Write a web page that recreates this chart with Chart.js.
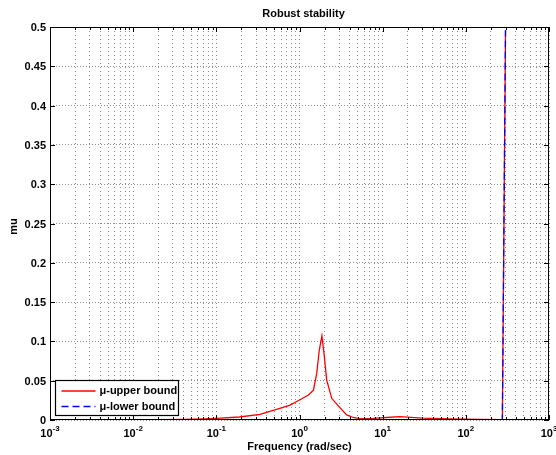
<!DOCTYPE html>
<html>
<head>
<meta charset="utf-8">
<script src="https://cdn.jsdelivr.net/npm/chart.js@4/dist/chart.umd.min.js"></script>
<style>
  html, body { margin: 0; padding: 0; background: #fff; }
  canvas { display: block; }
</style>
</head>
<body>
<canvas id="mu" width="556" height="455"></canvas>
<script>
// frequency grid (rad/sec) and the two mu bounds on it
const freq = [0.001, 0.002, 0.005, 0.01, 0.02, 0.04, 0.07, 0.1, 0.19, 0.335, 0.58, 0.77, 1.0, 1.28, 1.47, 1.61, 1.73, 1.86, 1.99, 2.12, 2.44, 2.93, 3.69, 4.43, 5.3, 7.7, 11, 16, 30, 65, 148, 275, 300];
const upperBound = [0.0002, 0.0002, 0.0003, 0.0003, 0.0004, 0.0008, 0.0014, 0.0021, 0.0038, 0.0072, 0.0149, 0.019, 0.0254, 0.0318, 0.038, 0.059, 0.089, 0.107, 0.0806, 0.051, 0.0276, 0.018, 0.0064, 0.0032, 0.0018, 0.002, 0.0032, 0.0042, 0.0025, 0.0013, 0.0008, 0.0005, 0.496];
const lowerBound = [0, 0, 0, 0, 0, 0, 0, 0, 0, 0, 0, 0, 0, 0, 0, 0, 0, 0, 0, 0, 0, 0, 0, 0, 0, 0, 0, 0, 0, 0, 0, 0, 0.496];

const seriesLabels = ['\u03bc-upper bound', '\u03bc-lower bound'];
const decadeExponents = [-3, -2, -1, 0, 1, 2, 3];
const yTickValues = [0, 0.05, 0.1, 0.15, 0.2, 0.25, 0.3, 0.35, 0.4, 0.45, 0.5];
const yTickLabels = ['0', '0.05', '0.1', '0.15', '0.2', '0.25', '0.3', '0.35', '0.4', '0.45', '0.5'];

// 1..9 x 10^k for the log grid
const xGridValues = [];
decadeExponents.forEach(e => {
  for (let m = 1; m <= 9; m++) {
    if (e === 3 && m > 1) break;
    xGridValues.push(+(m * Math.pow(10, e)).toPrecision(3));
  }
});

const FONT = 'bold 11px "Liberation Sans", Arial, sans-serif';
const SUP_FONT = 'bold 8px "Liberation Sans", Arial, sans-serif';

const isDecade = v => Math.abs(Math.log10(v) - Math.round(Math.log10(v))) < 1e-9;

const matlabFrame = {
  id: 'matlabFrame',
  afterDraw(chart) {
    const { ctx, chartArea: a, scales: { x, y } } = chart;
    const seg = (x1, y1, x2, y2) => {
      ctx.beginPath(); ctx.moveTo(x1, y1); ctx.lineTo(x2, y2); ctx.stroke();
    };
    ctx.save();
    ctx.strokeStyle = '#000';
    ctx.lineWidth = 1;
    ctx.setLineDash([]);
    ctx.strokeRect(Math.round(a.left) + 0.5, Math.round(a.top) + 0.5,
      Math.round(a.right - a.left) - 1, Math.round(a.bottom - a.top) - 1);

    // tick marks point inward on all four sides
    xGridValues.forEach(v => {
      const px = Math.round(x.getPixelForValue(v)) + 0.5;
      const len = isDecade(v) ? 5 : 3;
      seg(px, a.bottom, px, a.bottom - len);
      seg(px, a.top, px, a.top + len);
    });
    yTickValues.forEach(v => {
      const py = Math.round(y.getPixelForValue(v)) + 0.5;
      seg(a.left, py, a.left + 5, py);
      seg(a.right, py, a.right - 5, py);
    });

    ctx.fillStyle = '#000';
    ctx.font = FONT;

    // y tick labels
    ctx.textAlign = 'right';
    ctx.textBaseline = 'middle';
    yTickValues.forEach((v, i) => {
      ctx.fillText(yTickLabels[i], a.left - 4, y.getPixelForValue(v) + 1);
    });

    // x tick labels as 10^k
    ctx.textBaseline = 'alphabetic';
    ctx.textAlign = 'left';
    decadeExponents.forEach(e => {
      const px = x.getPixelForValue(Math.pow(10, e));
      ctx.font = FONT;
      const wBase = ctx.measureText('10').width;
      ctx.font = SUP_FONT;
      const exp = e < 0 ? '-' + (-e) : String(e);
      const wExp = ctx.measureText(exp).width;
      const x0 = px - (wBase + wExp) / 2;
      ctx.font = FONT;
      ctx.fillText('10', x0, a.bottom + 17);
      ctx.font = SUP_FONT;
      ctx.fillText(exp, x0 + wBase, a.bottom + 11);
    });

    // title and axis names
    ctx.font = FONT;
    ctx.textAlign = 'center';
    ctx.textBaseline = 'middle';
    const cx = (a.left + a.right) / 2;
    ctx.fillText('Robust stability', cx + 4, 14);
    ctx.fillText('Frequency (rad/sec)', cx, a.bottom + 27);
    ctx.save();
    ctx.translate(14, (a.top + a.bottom) / 2 + 3);
    ctx.rotate(-Math.PI / 2);
    ctx.fillText('mu', 0, 0);
    ctx.restore();

    // legend box in the lower left corner
    const lx = a.left + 5.5, ly = a.bottom - 39.5, lw = 123, lh = 35;
    ctx.fillStyle = '#fff';
    ctx.fillRect(lx, ly, lw, lh);
    ctx.strokeStyle = '#000';
    ctx.lineWidth = 1.2;
    ctx.strokeRect(lx, ly, lw, lh);
    chart.data.datasets.forEach((ds, i) => {
      const yy = ly + 10.5 + i * 15.5;
      ctx.strokeStyle = ds.borderColor;
      ctx.lineWidth = ds.borderWidth;
      ctx.setLineDash(ds.borderDash || []);
      seg(lx + 6, yy, lx + 40, yy);
      ctx.setLineDash([]);
      ctx.fillStyle = '#000';
      ctx.textAlign = 'left';
      ctx.fillText(ds.label, lx + 44, yy);
    });
    ctx.restore();
  }
};

new Chart(document.getElementById('mu'), {
  type: 'line',
  data: {
    datasets: [
      {
        label: seriesLabels[0],
        data: freq.map((f, i) => ({ x: f, y: upperBound[i] })),
        borderColor: 'rgb(255,0,0)',
        borderWidth: 1.3,
        pointRadius: 0,
        tension: 0,
        order: 2
      },
      {
        label: seriesLabels[1],
        data: freq.map((f, i) => ({ x: f, y: lowerBound[i] })),
        borderColor: 'rgb(0,0,255)',
        borderWidth: 1.3,
        borderDash: [7, 4],
        pointRadius: 0,
        tension: 0,
        order: 1
      }
    ]
  },
  options: {
    responsive: false,
    animation: false,
    layout: { padding: { left: 50, right: 7, top: 27, bottom: 35 } },
    plugins: { legend: { display: false }, tooltip: { enabled: false } },
    scales: {
      x: {
        type: 'logarithmic',
        min: 0.001,
        max: 1000,
        afterBuildTicks: scale => { scale.ticks = xGridValues.map(v => ({ value: v })); },
        ticks: { display: false },
        grid: { color: 'rgba(0,0,0,0.45)', lineWidth: 1, drawTicks: false },
        border: { display: false, dash: [1, 3] }
      },
      y: {
        min: 0,
        max: 0.5,
        afterBuildTicks: scale => { scale.ticks = yTickValues.map(v => ({ value: v })); },
        ticks: { display: false },
        grid: { color: 'rgba(0,0,0,0.45)', lineWidth: 1, drawTicks: false },
        border: { display: false, dash: [1, 2] }
      }
    }
  },
  plugins: [matlabFrame]
});
</script>
</body>
</html>
